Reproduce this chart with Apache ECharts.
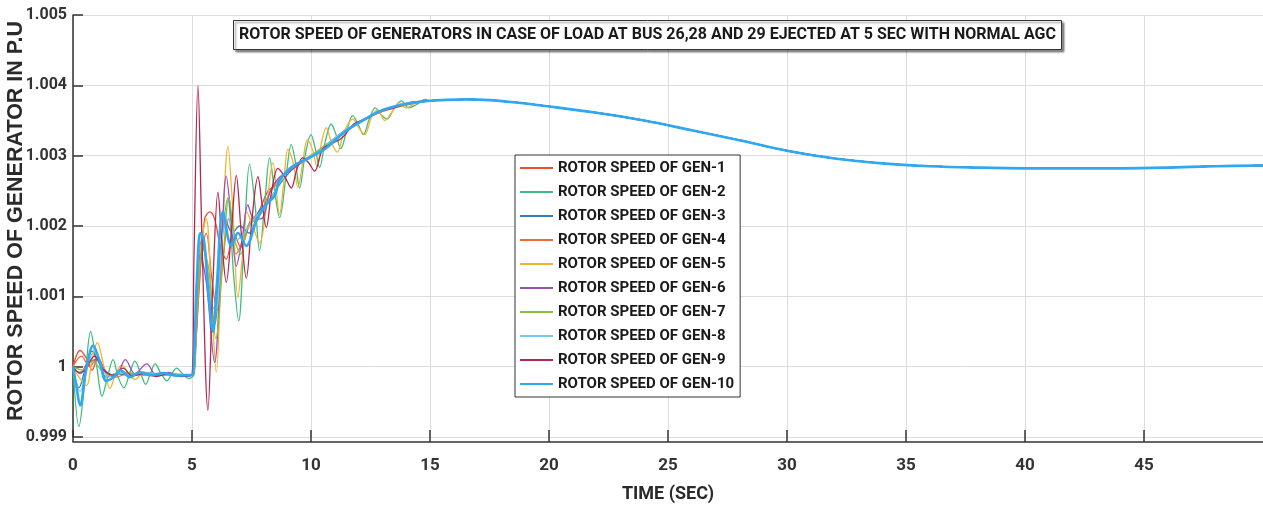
<!DOCTYPE html>
<html>
<head>
<meta charset="utf-8">
<script src="https://cdn.jsdelivr.net/npm/echarts@6/dist/echarts.min.js"></script>
<style>
  html, body { margin: 0; padding: 0; background: #fff; }
  #chart { width: 1263px; height: 508px; }
</style>
</head>
<body>
<div id="chart"></div>
<script>
// Rotor speed (p.u.) versus time (s) for the ten generators: [time, speed]
const gen1 = [[0,1.0],[0.3,1.00023],[0.6,1.0001],[0.8,0.99995],[1.05,1.00012],[1.35,0.99995],[1.7,0.99985],[2.0,0.99992],[2.5,0.99988],[3,0.9999],[4,0.99988],[5,0.99988],
  [5.1,1.00005],[5.3,1.0011],[5.53,1.0021],[5.75,1.0022],[5.95,1.0021],[6.2,1.0017],[6.44,1.00153],[6.75,1.0019],[7.05,1.0017],[7.4,1.002],[7.8,1.0022],[8.2,1.0025],[8.6,1.0026],[9.0,1.0028],[9.5,1.00288],[10,1.003],[10.5,1.0031],[11,1.00325],[11.5,1.00335],[12,1.00348],[13,1.00363],[14,1.00373],[15,1.00378]];
const gen2 = [[0,1.0],[0.25,0.99915],[0.5,0.9998],[0.74,1.0005],[1.0,1.0],[1.22,0.99958],[1.45,0.99985],[1.68,1.0001],[1.9,0.99985],[2.14,0.9997],[2.38,0.9999],[2.6,1.00008],[2.85,0.9999],[3.05,0.99975],[3.25,0.9999],[3.45,1.00004],[3.7,0.9999],[3.95,0.9998],[4.15,0.9999],[4.35,0.99998],[4.6,0.9999],[4.85,0.99983],[5.0,0.99985],
  [5.1,0.9999],[5.3,1.0013],[5.5,1.0017],[5.75,1.0009],[5.95,1.0006],[6.2,1.0016],[6.5,1.0024],[6.75,1.0013],[6.96,1.00065],[7.2,1.0019],[7.42,1.00288],[7.65,1.0023],[7.84,1.00165],[8.05,1.0023],[8.26,1.00297],[8.47,1.0025],[8.68,1.00212],[8.95,1.0027],[9.17,1.00316],[9.35,1.0029],[9.52,1.00254],[9.75,1.003],[10.0,1.0033],[10.18,1.0031],[10.36,1.00283],[10.6,1.0032],[10.85,1.00345],[11.05,1.0033],[11.25,1.0031],[11.5,1.00335],[11.75,1.00357],[12.0,1.00343],[12.2,1.0033],[12.45,1.00352],[12.7,1.00368],[12.95,1.00358],[13.2,1.00352],[13.5,1.00368],[13.8,1.00378],[14.1,1.00368],[14.4,1.00372],[14.8,1.0038],[15,1.00378]];
const gen3 = [[0,1.0],[0.25,0.9997],[0.5,0.99995],[0.8,1.00022],[1.1,1.00005],[1.4,0.99985],[1.8,0.9999],[2.3,0.99988],[3,0.99992],[4,0.99988],[5,0.99988],
  [5.2,1.001],[5.4,1.0018],[5.6,1.0015],[5.9,1.0007],[6.15,1.0014],[6.4,1.0021],[6.7,1.0019],[7.0,1.002],[7.4,1.0019],[7.8,1.0022],[8.2,1.00235],[8.7,1.0026],[9.2,1.0028],[9.9,1.00298],[10.6,1.0031],[11.4,1.00335],[12.2,1.0035],[13,1.00365],[14,1.00373],[15,1.00378]];
const gen4 = [[0,1.0],[0.35,1.00015],[0.7,1.0],[1.0,1.00012],[1.4,0.99992],[1.8,0.99985],[2.3,0.9999],[3,0.99988],[4,0.99988],[5,0.99988],
  [5.15,1.0003],[5.35,1.0014],[5.6,1.0019],[5.85,1.0012],[6.05,1.0008],[6.3,1.0015],[6.55,1.0021],[6.85,1.0016],[7.15,1.0018],[7.5,1.0021],[7.9,1.0022],[8.3,1.0025],[8.8,1.0027],[9.3,1.00285],[9.8,1.00296],[10.5,1.00308],[11.2,1.00328],[12,1.00347],[13,1.00363],[14,1.00372],[15,1.00378]];
const gen5 = [[0,1.0],[0.25,0.99985],[0.57,0.99973],[0.8,1.0001],[1.02,1.00034],[1.3,1.0],[1.55,0.99969],[1.8,0.9999],[2.05,1.00002],[2.35,0.9999],[2.6,0.99982],[3.0,0.99992],[3.5,0.99987],[4,0.9999],[4.5,0.99987],[5,0.99988],
  [5.1,1.0003],[5.3,1.0015],[5.6,1.0021],[5.8,1.0011],[6.02,0.99992],[6.25,1.0016],[6.51,1.00313],[6.72,1.0022],[6.93,1.00098],[7.1,1.0015],[7.3,1.0022],[7.55,1.002],[7.84,1.00176],[8.1,1.0022],[8.4,1.0029],[8.68,1.00217],[8.85,1.0026],[9.03,1.00309],[9.25,1.0029],[9.45,1.00255],[9.65,1.0029],[9.85,1.00323],[10.05,1.0031],[10.25,1.00285],[10.45,1.0032],[10.64,1.0034],[10.85,1.0032],[11.1,1.00305],[11.4,1.00335],[11.75,1.00352],[12.0,1.0034],[12.25,1.0033],[12.55,1.00355],[12.8,1.00365],[13.1,1.0035],[13.4,1.00362],[13.7,1.00375],[14.0,1.00368],[14.4,1.00375],[15,1.00378]];
const gen6 = [[0,1.0],[0.3,0.9999],[0.6,1.00005],[1.0,1.0001],[1.4,0.99992],[1.8,0.99988],[2.2,1.0001],[2.6,0.9999],[3.1,1.00004],[3.5,0.99988],[4,0.99992],[4.5,0.99987],[5,0.99988],
  [5.15,1.0005],[5.35,1.0016],[5.6,1.0012],[5.95,1.00006],[6.2,1.0014],[6.44,1.00271],[6.65,1.0021],[6.86,1.00143],[7.1,1.0018],[7.35,1.0023],[7.6,1.0021],[7.9,1.0021],[8.3,1.0025],[8.7,1.0027],[9.2,1.0028],[9.8,1.00295],[10.5,1.0031],[11.3,1.00333],[12.1,1.00348],[13,1.00364],[14,1.00373],[15,1.00378]];
const gen7 = [[0,1.0],[0.4,0.99995],[0.8,1.00008],[1.2,0.99995],[1.6,0.99988],[2.2,0.99992],[3,0.99988],[4,0.9999],[5,0.99988],
  [5.2,1.0007],[5.45,1.0017],[5.7,1.0014],[6.0,1.0004],[6.3,1.0015],[6.55,1.0024],[6.8,1.0018],[7.05,1.0016],[7.35,1.002],[7.7,1.0021],[8.1,1.0023],[8.5,1.0025],[9.0,1.0028],[9.5,1.0029],[10.2,1.00305],[11,1.00325],[11.8,1.00343],[12.6,1.00358],[13.5,1.0037],[14.4,1.00375],[15,1.00378]];
const gen8 = [[0,1.0],[0.3,0.99965],[0.6,1.0],[0.9,1.00022],[1.2,1.00002],[1.5,0.99985],[1.9,0.99992],[2.5,0.99988],[3.2,0.99991],[4,0.99988],[5,0.99988],
  [5.2,1.0011],[5.4,1.0019],[5.55,1.0017],[5.8,1.0009],[6.0,1.0008],[6.3,1.0019],[6.55,1.0021],[6.85,1.0018],[7.2,1.0019],[7.6,1.0021],[8.0,1.00225],[8.5,1.0025],[9.0,1.0028],[9.6,1.00292],[10.3,1.00305],[11.1,1.00328],[12,1.00348],[13,1.00364],[14,1.00373],[15,1.00378]];
const gen9 = [[0,1.0],[0.25,0.99992],[0.5,0.99995],[0.9,1.00015],[1.3,0.99995],[1.7,0.99988],[2.1,0.99998],[2.5,0.99987],[3,0.9999],[3.5,0.99986],[4,0.9999],[4.5,0.99986],[5,0.99988],
  [5.08,1.0015],[5.25,1.004],[5.42,1.0018],[5.67,0.99938],[5.88,1.0012],[6.09,1.00248],[6.27,1.0017],[6.44,1.0012],[6.65,1.0019],[6.86,1.00272],[7.07,1.0019],[7.28,1.00126],[7.52,1.0021],[7.77,1.0027],[7.95,1.0023],[8.12,1.00198],[8.35,1.0025],[8.61,1.00282],[8.9,1.0027],[9.17,1.00254],[9.4,1.0028],[9.65,1.00297],[9.9,1.0029],[10.15,1.00278],[10.5,1.0031],[10.9,1.00318],[11.3,1.00325],[11.8,1.00345],[12.3,1.00352],[12.8,1.00362],[13.5,1.00368],[14.2,1.00376],[15,1.00378]];
const gen10 = [[0,1.0],[0.15,0.9997],[0.3,0.99945],[0.55,0.99995],[0.85,1.0003],[1.1,1.0001],[1.4,0.9998],[1.7,0.99985],[2.0,0.99995],[2.4,0.99985],[2.8,0.99992],[3.3,0.99988],[3.8,0.99991],[4.3,0.99987],[4.8,0.99988],[5.0,0.99988],
  [5.2,1.0012],[5.35,1.0019],[5.5,1.0018],[5.7,1.001],[5.88,1.0005],[6.05,1.0012],[6.3,1.0022],[6.65,1.00172],[6.93,1.0019],[7.28,1.00172],[7.7,1.00207],[8.05,1.00228],[8.47,1.00243],[8.68,1.00265],[9.24,1.00285],[9.94,1.00297],[10.64,1.00311],[11.47,1.00335],[12.17,1.0035],[12.87,1.00363],[13.5,1.0037],[14.2,1.00375],[15,1.00378]];

// Common response once all machines have swung together (t > 15 s)
const commonTail = [[15.5,1.00379],[16.5,1.0038],[17.5,1.00379],[18.5,1.00376],[20,1.0037],[22,1.00361],[24,1.0035],[26,1.00336],[28,1.00322],[30,1.00307],[32,1.00296],[34,1.00289],[36,1.00285],[38,1.00283],[40,1.00282],[42,1.00282],[44,1.00282],[46,1.00283],[48,1.00285],[50,1.00286]];

const seriesNames = ['ROTOR SPEED OF GEN-1','ROTOR SPEED OF GEN-2','ROTOR SPEED OF GEN-3','ROTOR SPEED OF GEN-4','ROTOR SPEED OF GEN-5',
  'ROTOR SPEED OF GEN-6','ROTOR SPEED OF GEN-7','ROTOR SPEED OF GEN-8','ROTOR SPEED OF GEN-9','ROTOR SPEED OF GEN-10'];
const seriesColors = ['#f04e30','#3fbc80','#2f7fc1','#ee6a36','#f1b533','#9a52b5','#8cbd45','#72c8ef','#ae2a50','#2ea8f2'];
const seriesData = [gen1, gen2, gen3, gen4, gen5, gen6, gen7, gen8, gen9, gen10];

const titleText = 'ROTOR SPEED OF GENERATORS IN CASE OF LOAD AT BUS 26,28 AND 29 EJECTED AT 5 SEC WITH NORMAL AGC';
const xName = 'TIME (SEC)';
const yName = 'ROTOR SPEED OF GENERATOR IN P.U';

const NARROW = "Roboto, 'Liberation Sans', Arial, sans-serif";
const WIDE = "'Liberation Sans', Arial, sans-serif";

const chart = echarts.init(document.getElementById('chart'), null, { renderer: 'canvas' });

chart.setOption({
  animation: false,
  backgroundColor: '#ffffff',
  title: {
    text: titleText,
    left: 233,
    top: 20,
    padding: [6, 6, 6, 6],
    borderColor: '#333',
    borderWidth: 1,
    backgroundColor: '#fff',
    shadowColor: 'rgba(0,0,0,0.45)',
    shadowBlur: 2,
    shadowOffsetX: 2,
    shadowOffsetY: 2,
    textStyle: { fontFamily: NARROW, fontWeight: 'bold', fontSize: 16, color: '#1a1a1a', lineHeight: 18 }
  },
  legend: {
    orient: 'vertical',
    left: 515,
    top: 155,
    icon: 'rect',
    itemWidth: 33,
    itemHeight: 2,
    itemGap: 8,
    padding: [5, 6, 5, 5],
    borderColor: '#333',
    borderWidth: 1,
    backgroundColor: '#fff',
    textStyle: { fontFamily: NARROW, fontWeight: 'bold', fontSize: 15, color: '#1a1a1a', lineHeight: 16 },
    data: seriesNames
  },
  grid: { left: 73, right: 0, top: 15, bottom: 71, containLabel: false, outerBoundsMode: 'none' },
  xAxis: {
    type: 'value',
    min: 0, max: 50, interval: 5,
    offset: 5,
    name: xName,
    nameLocation: 'middle',
    nameGap: 43,
    nameMoveOverlap: false,
    nameTextStyle: { fontFamily: NARROW, fontWeight: 'bold', fontSize: 18, color: '#2a2a2a' },
    axisLine: { show: true, lineStyle: { color: '#333', width: 1.5 } },
    axisTick: { show: true, inside: true, length: 12, lineStyle: { color: '#333', width: 1.5 } },
    axisLabel: { showMaxLabel: false, margin: 15, fontFamily: NARROW, fontWeight: 'bold', fontSize: 17, color: '#333' },
    splitLine: { show: true, lineStyle: { color: '#dddddd', width: 1 } }
  },
  yAxis: {
    type: 'value',
    min: 0.999, max: 1.005, interval: 0.001,
    name: yName,
    nameLocation: 'middle',
    nameGap: 46,
    nameMoveOverlap: false,
    nameTextStyle: { fontFamily: WIDE, fontWeight: 'bold', fontSize: 21.5, color: '#2a2a2a', padding: [0, 0, 0, 10] },
    axisLine: { show: true, lineStyle: { color: '#333', width: 1.5 } },
    axisTick: { show: true, inside: true, length: 10, lineStyle: { color: '#333', width: 1.5 } },
    axisLabel: {
      margin: 6, fontFamily: NARROW, fontWeight: 'bold', fontSize: 16, color: '#333',
      formatter: v => String(Number(v.toFixed(3)))
    },
    splitLine: { show: true, lineStyle: { color: '#dddddd', width: 1 } }
  },
  series: seriesNames.map((name, i) => ({
    name,
    type: 'line',
    data: seriesData[i].concat(commonTail),
    symbol: 'none',
    showSymbol: false,
    smooth: 0.35,
    clip: true,
    color: seriesColors[i],
    lineStyle: { width: i === 9 ? 2.6 : 1.3, color: seriesColors[i] }
  }))
});
</script>
</body>
</html>
